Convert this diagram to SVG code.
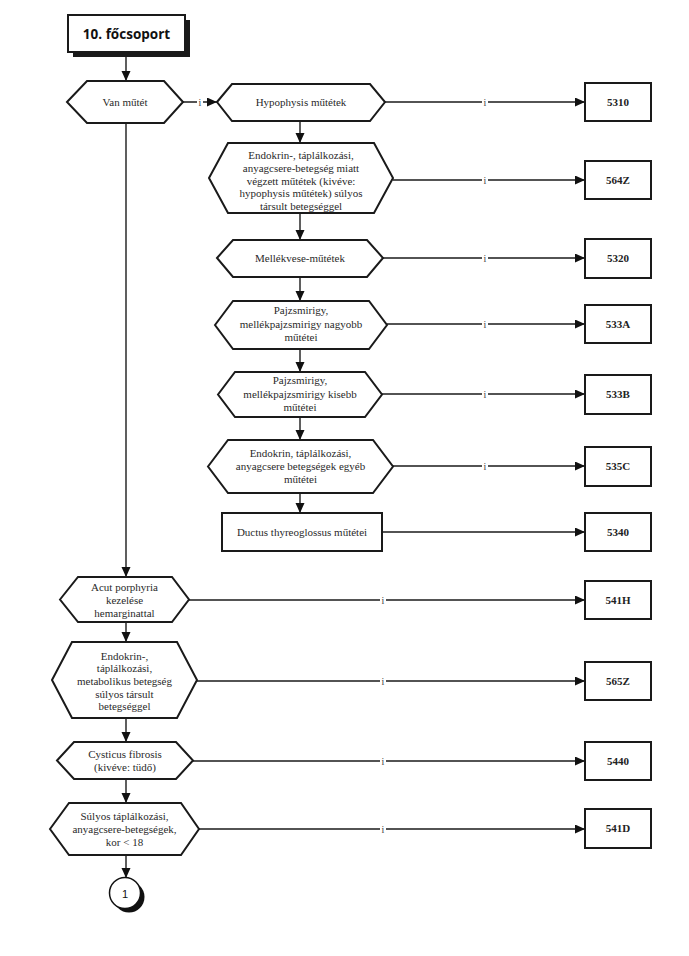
<svg xmlns="http://www.w3.org/2000/svg" width="689" height="956" viewBox="0 0 689 956">
<defs>
<marker id="ah" markerUnits="userSpaceOnUse" markerWidth="11" markerHeight="10" refX="10" refY="4.5" orient="auto">
<path d="M0,0 L10,4.5 L0,9 z" fill="#111"/>
</marker>
<style>
.n{fill:#fff;stroke:#1a1a1a;stroke-width:2;stroke-linejoin:miter}
.t{font-family:"Liberation Serif","Times New Roman",serif;font-size:11px;fill:#2a2a2a;text-anchor:middle}
.b{font-family:"Liberation Serif","Times New Roman",serif;font-size:11px;font-weight:bold;fill:#222;text-anchor:middle}
.c{fill:none;stroke:#1a1a1a;stroke-width:1.4;marker-end:url(#ah)}
.il{font-family:"Liberation Serif","Times New Roman",serif;font-size:10px;fill:#444;text-anchor:middle}
.ib{fill:#fff}
</style>
</defs>
<rect width="689" height="956" fill="#fff"/>

<g id="connectors">
<path class="c" d="M126,52 V81"/>
<path class="c" d="M183,102 H217"/>
<path class="c" d="M126,123 V577"/>
<path class="c" d="M300,121 V143"/>
<path class="c" d="M300,213 V240"/>
<path class="c" d="M300,277 V301"/>
<path class="c" d="M300,349 V372"/>
<path class="c" d="M300,417 V440"/>
<path class="c" d="M300,493 V513"/>
<path class="c" d="M385,102 H585"/>
<path class="c" d="M393,180 H585"/>
<path class="c" d="M383,258 H585"/>
<path class="c" d="M387,324 H585"/>
<path class="c" d="M382,394 H585"/>
<path class="c" d="M393,466 H585"/>
<path class="c" d="M382,532 H585"/>
<path class="c" d="M126,622 V642"/>
<path class="c" d="M126,718 V742"/>
<path class="c" d="M126,779 V803"/>
<path class="c" d="M126,855 V878"/>
<path class="c" d="M189,600 H585"/>
<path class="c" d="M197,681 H585"/>
<path class="c" d="M193,761 H585"/>
<path class="c" d="M199,829 H585"/>
<g id="labels">
<rect class="ib" x="197" y="96" width="6" height="12"/><text class="il" x="200" y="106">i</text>
<rect class="ib" x="482" y="96" width="6" height="12"/><text class="il" x="485" y="106">i</text>
<rect class="ib" x="482" y="174" width="6" height="12"/><text class="il" x="485" y="184">i</text>
<rect class="ib" x="482" y="252" width="6" height="12"/><text class="il" x="485" y="262">i</text>
<rect class="ib" x="482" y="318" width="6" height="12"/><text class="il" x="485" y="328">i</text>
<rect class="ib" x="482" y="388" width="6" height="12"/><text class="il" x="485" y="398">i</text>
<rect class="ib" x="482" y="460" width="6" height="12"/><text class="il" x="485" y="470">i</text>
<rect class="ib" x="380" y="594" width="6" height="12"/><text class="il" x="383" y="604">i</text>
<rect class="ib" x="380" y="675" width="6" height="12"/><text class="il" x="383" y="685">i</text>
<rect class="ib" x="380" y="755" width="6" height="12"/><text class="il" x="383" y="765">i</text>
<rect class="ib" x="380" y="823" width="6" height="12"/><text class="il" x="383" y="833">i</text>
</g>
</g>

<g id="header">
<rect x="73" y="20" width="117" height="37" fill="#1a1a1a"/>
<rect x="68" y="15" width="117" height="37" class="n"/>
<text x="126.5" y="39" style="font-family:'Open Sans','Liberation Sans',sans-serif;font-size:13.5px;font-weight:bold;fill:#111;text-anchor:middle">10. főcsoport</text>
</g>

<g id="van-mutet">
<polygon class="n" points="67,102 87,81 164,81 183,102 164,123 87,123"/>
<text class="t" x="125" y="106">Van műtét</text>
</g>

<g id="hypophysis">
<polygon class="n" points="217,102 232,84 370,84 385,102 370,121 232,121"/>
<text class="t" x="301" y="106">Hypophysis műtétek</text>
</g>

<g id="endokrin-564">
<polygon class="n" points="209,178 228,143 374,143 393,178 374,213 228,213"/>
<text class="t" x="301" y="159">Endokrin-, táplálkozási,</text>
<text class="t" x="301" y="172">anyagcsere-betegség miatt</text>
<text class="t" x="301" y="184.5">végzett műtétek (kivéve:</text>
<text class="t" x="301" y="197">hypophysis műtétek) súlyos</text>
<text class="t" x="301" y="210">társult betegséggel</text>
</g>

<g id="mellekvese">
<polygon class="n" points="217,258 233,240 367,240 383,258 367,277 233,277"/>
<text class="t" x="300" y="262">Mellékvese-műtétek</text>
</g>

<g id="pajzs-nagyobb">
<polygon class="n" points="215,325 233,301 369,301 387,325 369,349 233,349"/>
<text class="t" x="301" y="314">Pajzsmirigy,</text>
<text class="t" x="301" y="328">mellékpajzsmirigy nagyobb</text>
<text class="t" x="301" y="341">műtétei</text>
</g>

<g id="pajzs-kisebb">
<polygon class="n" points="218,394.5 235,372 365,372 382,394.5 365,417 235,417"/>
<text class="t" x="300" y="384">Pajzsmirigy,</text>
<text class="t" x="300" y="398">mellékpajzsmirigy kisebb</text>
<text class="t" x="300" y="411">műtétei</text>
</g>

<g id="endokrin-egyeb">
<polygon class="n" points="208,466.5 228,440 373,440 393,466.5 373,493 228,493"/>
<text class="t" x="300.5" y="457">Endokrin, táplálkozási,</text>
<text class="t" x="300.5" y="470">anyagcsere betegségek egyéb</text>
<text class="t" x="300.5" y="483">műtétei</text>
</g>

<g id="ductus">
<rect class="n" x="222" y="513" width="160" height="38"/>
<text class="t" x="302" y="536">Ductus thyreoglossus műtétei</text>
</g>

<g id="acut">
<polygon class="n" points="60,599.5 78,577 172,577 189,599.5 172,622 78,622"/>
<text class="t" x="124.5" y="591">Acut porphyria</text>
<text class="t" x="124.5" y="604">kezelése</text>
<text class="t" x="124.5" y="617">hemarginattal</text>
</g>

<g id="endokrin-metab">
<polygon class="n" points="52,680 72,642 177,642 197,680 177,718 72,718"/>
<text class="t" x="124.5" y="660">Endokrin-,</text>
<text class="t" x="124.5" y="672">táplálkozási,</text>
<text class="t" x="124.5" y="685">metabolikus betegség</text>
<text class="t" x="124.5" y="698">súlyos társult</text>
<text class="t" x="124.5" y="710">betegséggel</text>
</g>

<g id="cysticus">
<polygon class="n" points="57,760.5 74,742 176,742 193,760.5 176,779 74,779"/>
<text class="t" x="125" y="758">Cysticus fibrosis</text>
<text class="t" x="125" y="771">(kivéve: tüdő)</text>
</g>

<g id="sulyos">
<polygon class="n" points="50,829 69,803 181,803 199,829 181,855 69,855"/>
<text class="t" x="124.5" y="820">Súlyos táplálkozási,</text>
<text class="t" x="124.5" y="833">anyagcsere-betegségek,</text>
<text class="t" x="124.5" y="846">kor &lt; 18</text>
</g>

<g id="box-5310"><rect class="n" x="585" y="83" width="66" height="38"/><text class="b" x="618" y="106">5310</text></g>
<g id="box-564Z"><rect class="n" x="585" y="161" width="66" height="38"/><text class="b" x="618" y="184">564Z</text></g>
<g id="box-5320"><rect class="n" x="585" y="239" width="66" height="39"/><text class="b" x="618" y="262">5320</text></g>
<g id="box-533A"><rect class="n" x="585" y="305" width="66" height="38"/><text class="b" x="618" y="328">533A</text></g>
<g id="box-533B"><rect class="n" x="585" y="375" width="66" height="39"/><text class="b" x="618" y="398">533B</text></g>
<g id="box-535C"><rect class="n" x="585" y="447" width="66" height="39"/><text class="b" x="618" y="470">535C</text></g>
<g id="box-5340"><rect class="n" x="585" y="513" width="66" height="38"/><text class="b" x="618" y="536">5340</text></g>
<g id="box-541H"><rect class="n" x="585" y="581" width="66" height="38"/><text class="b" x="618" y="604">541H</text></g>
<g id="box-565Z"><rect class="n" x="585" y="662" width="66" height="38"/><text class="b" x="618" y="685">565Z</text></g>
<g id="box-5440"><rect class="n" x="585" y="742" width="66" height="38"/><text class="b" x="618" y="765">5440</text></g>
<g id="box-541D"><rect class="n" x="585" y="809" width="66" height="39"/><text class="b" x="618" y="832">541D</text></g>

<g id="connector-1">
<circle cx="129" cy="897" r="15.5" fill="#111"/>
<circle cx="125" cy="893" r="15.5" fill="#fff" stroke="#111" stroke-width="1.5"/>
<text x="125" y="897.5" style="font-family:'Liberation Sans',sans-serif;font-size:11px;fill:#111;text-anchor:middle">1</text>
</g>
</svg>
